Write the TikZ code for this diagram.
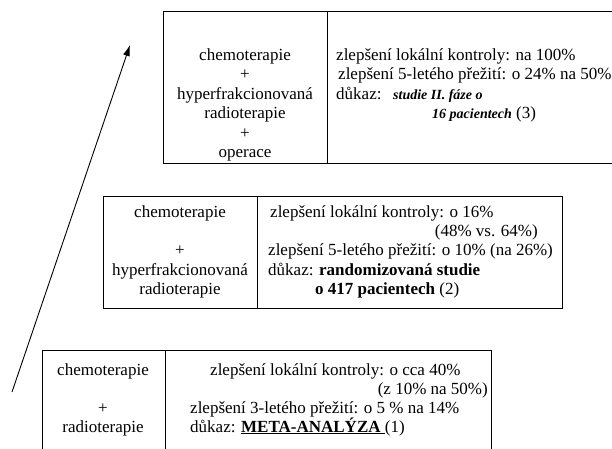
\documentclass[tikz,border=0pt]{standalone}
\usepackage{fontspec}
\setmainfont{Liberation Serif}
\usetikzlibrary{arrows.meta}

\begin{document}
\begin{tikzpicture}[x=1pt, y=-1pt,
  frame/.style={draw, line width=1pt},
  tx/.style={font=\fontsize{17}{20}\selectfont, inner sep=0pt},
  lc/.style={tx, anchor=base},
  rc/.style={tx, anchor=base west},
  rr/.style={tx, anchor=base east},
  bi/.style={font=\fontsize{14}{17}\selectfont\bfseries\itshape, inner sep=0pt, anchor=base west},
  arr/.style={-{Latex[length=11pt,width=7pt]}, line width=0.9pt},
]
\useasboundingbox (0,0) rectangle (612,448);
\clip (0,0) rectangle (612,448);

% --- top box: chemo + hyperfrakc. RT + operace ---
\draw[frame] (163,11) rectangle (620,163);
\draw[frame] (327,11) -- (327,163);
\node[lc] (a1) at (245,60)  {chemoterapie};
\node[lc] (a2) at (245,79)  {+};
\node[lc] (a3) at (245,99)  {hyperfrakcionovaná};
\node[lc] (a4) at (245,118) {radioterapie};
\node[lc] (a5) at (245,138) {+};
\node[lc] (a6) at (245,157) {operace};
\node[rc] (ar1) at (336,60)  {zlepšení lokální kontroly: na 100\%};
\node[rc] (ar2) at (338,79)  {zlepšení 5-letého přežití: o 24\% na 50\%};
\node[rc] (ar3) at (336,99)  {důkaz:};
\node[bi] (ar4) at (393,99)  {studie II. fáze o};
\node[rc] (ar5) at (432,118) {{\fontsize{14}{17}\selectfont\bfseries\itshape 16 pacientech} (3)};

% --- middle box: chemo + hyperfrakc. RT ---
\draw[frame] (103,196) rectangle (562,308);
\draw[frame] (257,196) -- (257,308);
\node[lc] (b1) at (180,217) {chemoterapie};
\node[lc] (b2) at (180,255) {+};
\node[lc] (b3) at (180,275) {hyperfrakcionovaná};
\node[lc] (b4) at (180,294) {radioterapie};
\node[rc] (br1) at (270,217) {zlepšení lokální kontroly: o 16\%};
\node[rr] (br2) at (538,236) {(48\% vs. 64\%)};
\node[rc] (br3) at (268,255) {zlepšení 5-letého přežití: o 10\% (na 26\%)};
\node[rc] (br4) at (268,275) {důkaz: \textbf{randomizovaná studie}};
\node[rc] (br5) at (315,294) {\textbf{o 417 pacientech} (2)};

% --- bottom box: chemo + RT ---
\draw[frame] (42,350) rectangle (491,460);
\draw[frame] (165,350) -- (165,460);
\node[lc] (c1) at (103,375) {chemoterapie};
\node[lc] (c2) at (103,413) {+};
\node[lc] (c3) at (103,432) {radioterapie};
\node[rc] (cr1) at (210,375) {zlepšení lokální kontroly: o cca 40\%};
\node[rr] (cr2) at (488,394) {(z 10\% na 50\%)};
\node[rc] (cr3) at (190,413) {zlepšení 3-letého přežití: o 5 \% na 14\%};
\node[rc] (cr4) at (190,432) {důkaz: \underline{\textbf{META-ANALÝZA }}(1)};

% --- arrow ---
\coordinate (ev0) at (12,392);
\coordinate (ev1) at (130,45);
\draw[arr] (ev0) -- (ev1);
\end{tikzpicture}
\end{document}
